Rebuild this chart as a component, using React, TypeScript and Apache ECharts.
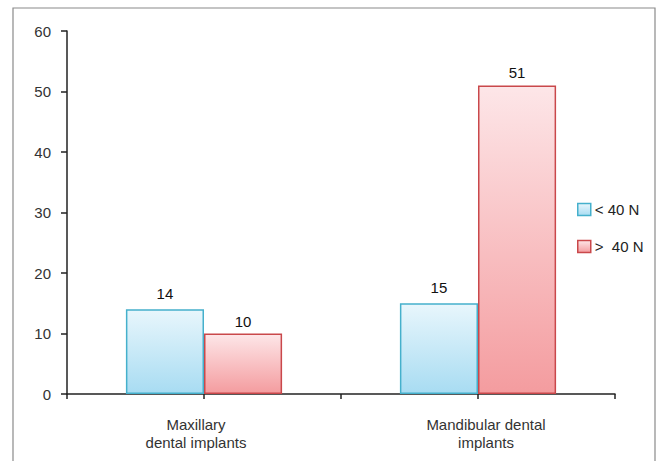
import React, { useEffect, useRef } from "react";
import * as echarts from "echarts";

const categories = ["Maxillary\ndental implants", "Mandibular dental\nimplants"];
const seriesNames = ["< 40 N", ">  40 N"];
const below40 = [14, 15];
const above40 = [10, 51];
const yMin = 0;
const yMax = 60;
const yInterval = 10;

const FONT = "'Liberation Sans', Arial, sans-serif";
const FS = 15;

export default function App() {
  const ref = useRef<HTMLDivElement>(null);
  useEffect(() => {
    document.body.style.margin = "0";
    const chart = echarts.init(ref.current!, null, { renderer: "svg" });
    const blue = new echarts.graphic.LinearGradient(0, 0, 0, 1, [
      { offset: 0, color: "#e8f6fc" },
      { offset: 1, color: "#a8dcf2" },
    ]);
    const red = new echarts.graphic.LinearGradient(0, 0, 0, 1, [
      { offset: 0, color: "#fde6e8" },
      { offset: 1, color: "#f49c9f" },
    ]);
    const tickAxis = (inside: boolean, len: number) => ({
      type: "category",
      data: categories,
      position: "bottom",
      offset: 0,
      axisLine: { show: false },
      axisLabel: { show: false },
      axisTick: {
        show: true,
        alignWithLabel: true,
        inside,
        length: len,
        lineStyle: { color: "#222", width: 1.5 },
      },
      splitLine: { show: false },
    });
    const labStyle = { fontSize: FS, color: "#333", fontFamily: FONT, lineHeight: 18 };
    chart.setOption({
      animation: false,
      textStyle: { fontFamily: FONT },
      graphic: [
        {
          type: "rect",
          shape: { x: 13, y: 8, width: 642, height: 480 },
          style: { fill: "none", stroke: "#8a8a8a", lineWidth: 1.2 },
          silent: true,
        },
      ],
      grid: { left: 67, right: 46, top: 31, bottom: 67 },
      legend: {
        orient: "vertical",
        left: 572,
        top: 197,
        icon: "rect",
        itemWidth: 13,
        itemHeight: 12,
        itemGap: 22,
        itemStyle: { borderWidth: 1.5 },
        textStyle: { fontSize: FS, color: "#222", fontFamily: FONT, padding: [0, 0, 0, -1] },
        data: seriesNames,
      },
      xAxis: [
        {
          type: "category",
          data: categories,
          position: "bottom",
          axisLine: { show: true, lineStyle: { color: "#222", width: 1.5 } },
          axisTick: { show: true, length: 5, lineStyle: { color: "#222", width: 1.5 } },
          axisLabel: {
            fontSize: FS,
            color: "#333",
            margin: 21,
            lineHeight: 18,
            fontFamily: FONT,
            interval: 0,
            formatter: (v: string, i: number) =>
              v
                .split("\n")
                .map((s) => `{${i === 0 ? "l" : "r"}|${s}}`)
                .join("\n"),
            rich: {
              l: { ...labStyle, padding: [0, 16, 0, 0] },
              r: { ...labStyle, padding: [0, 0, 0, 16] },
            },
          },
        },
        tickAxis(false, 5),
        tickAxis(true, 4),
      ],
      yAxis: {
        type: "value",
        min: yMin,
        max: yMax,
        interval: yInterval,
        axisLine: { show: true, lineStyle: { color: "#222", width: 1.5 } },
        axisTick: { show: true, length: 6, lineStyle: { color: "#222", width: 1.5 } },
        axisLabel: { fontSize: FS, color: "#333", margin: 16, fontFamily: FONT },
        splitLine: { show: false },
      },
      series: [
        {
          name: seriesNames[0],
          type: "bar",
          data: below40,
          barGap: "0%",
          barCategoryGap: "43%",
          itemStyle: { color: blue, borderColor: "#45b0cc", borderWidth: 1.5 },
          label: { show: true, position: "top", distance: 8, fontSize: FS, color: "#111", fontFamily: FONT },
        },
        {
          name: seriesNames[1],
          type: "bar",
          data: above40,
          barGap: "0%",
          barCategoryGap: "43%",
          itemStyle: { color: red, borderColor: "#c9484b", borderWidth: 1.5 },
          label: { show: true, position: "top", distance: 5, fontSize: FS, color: "#111", fontFamily: FONT },
        },
      ],
    });
    return () => chart.dispose();
  }, []);
  return <div ref={ref} style={{ width: 661, height: 461 }} />;
}
